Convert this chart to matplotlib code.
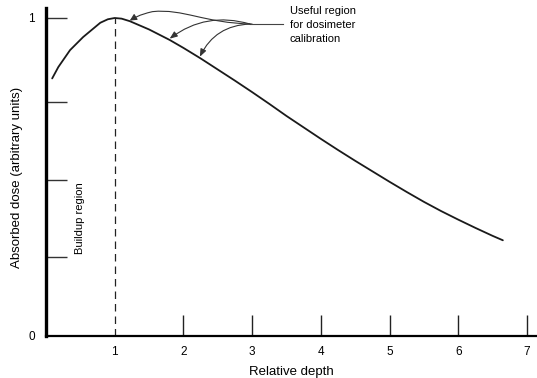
import numpy as np
import matplotlib
matplotlib.use("Agg")
import matplotlib.pyplot as plt
from matplotlib.patches import FancyArrowPatch
from matplotlib.path import Path

plt.rcParams['font.family'] = ['Liberation Sans', 'DejaVu Sans']

# ---- data ----
depth = [0.09, 0.18, 0.35, 0.54, 0.79, 0.90, 1.00, 1.10, 1.22, 1.50, 1.80, 2.00,
         2.25, 2.50, 2.75, 3.00, 3.25, 3.50, 3.75, 4.00, 4.25, 4.50, 4.75, 5.00,
         5.25, 5.50, 5.75, 6.00, 6.25, 6.50, 6.65]
dose = [0.810, 0.846, 0.899, 0.940, 0.985, 0.996, 1.000, 0.998, 0.990, 0.964, 0.931, 0.906,
        0.873, 0.838, 0.803, 0.767, 0.730, 0.692, 0.656, 0.620, 0.585, 0.551, 0.518, 0.485,
        0.453, 0.422, 0.393, 0.366, 0.340, 0.315, 0.301]
x_tick_values = [1, 2, 3, 4, 5, 6, 7]
x_tick_labels = ['1', '2', '3', '4', '5', '6', '7']
y_tick_marks = [0.25, 0.49, 0.735, 1.0]
y_tick_values = [0, 1]
y_tick_labels = ['0', '1']
dmax_depth = 1.0
arrow_targets = [1.22, 1.80, 2.24]
label_text = "Useful region\nfor dosimeter\ncalibration"

W, H = 537, 378
fig = plt.figure(figsize=(W / 100, H / 100), dpi=100)
ax = fig.add_axes([46 / W, 42 / H, 491 / W, 328 / H])
ax.set_xlim(0, 491 / 68.7)
ax.set_ylim(0, 328 / 318)
ax.xaxis.remove_overlapping_locs = False
ax.yaxis.remove_overlapping_locs = False

# main depth-dose curve
ax.plot(depth, dose, color='#1a1a1a', lw=1.3, solid_capstyle='round',
        solid_joinstyle='round')

# dashed line at depth of maximum dose
ax.plot([dmax_depth, dmax_depth], [0, 1.0], color='#222222', lw=0.9,
        linestyle=(0, (6, 4)))

# spines
for s in ['top', 'right']:
    ax.spines[s].set_visible(False)
ax.spines['left'].set_linewidth(2.4)
ax.spines['bottom'].set_linewidth(1.6)

# x ticks: labels at 1..7, inward marks at 2..7
ax.set_xticks(x_tick_values)
ax.set_xticklabels(x_tick_labels, fontsize=8.5)
ax.tick_params(axis='x', which='major', length=0, pad=7)
ax.set_xticks(x_tick_values[1:], minor=True)
ax.tick_params(axis='x', which='minor', direction='in', length=15, width=1.0, color='#222222')

# y ticks
ax.set_yticks(y_tick_values)
ax.set_yticklabels(y_tick_labels, fontsize=8.5)
ax.tick_params(axis='y', which='major', length=0, pad=8)
ax.set_yticks(y_tick_marks, minor=True)
ax.tick_params(axis='y', which='minor', direction='in', length=15, width=1.0, color='#333333')
ax.yaxis.get_minor_ticks()[-1].tick1line.set_color('#888888')

ax.set_xlabel('Relative depth', fontsize=9.5, labelpad=6)
ax.set_ylabel('Absorbed dose (arbitrary units)', fontsize=9.5)
ax.yaxis.set_label_coords(-0.046, 0.482)

# buildup region label
ax.text(0.50, 0.37, 'Buildup region', rotation=90, fontsize=8,
        ha='center', va='center')

# useful region annotation
ax.text(3.55, 0.978, label_text, fontsize=8, ha='left', va='center',
        linespacing=1.55)
ax.plot([2.97, 3.45], [0.981, 0.981], color='#444444', lw=0.8)

ty = np.interp(arrow_targets, depth, dose)
# first arrow: S-shaped curve over the peak
verts = [(3.0, 0.981), (2.3, 0.984), (2.0, 1.03), (1.55, 1.02), (1.35, 1.01), (1.28, 1.0),
         (arrow_targets[0], ty[0] + 0.002)]
codes = [Path.MOVETO, Path.CURVE4, Path.CURVE4, Path.CURVE4, Path.CURVE4, Path.CURVE4, Path.CURVE4]
p1 = FancyArrowPatch(path=Path(verts, codes), arrowstyle='-|>,head_length=4,head_width=2',
                     color='#333333', lw=0.8)
ax.add_patch(p1)
for tx, yy, rad in zip(arrow_targets[1:], ty[1:], [0.25, 0.3]):
    ax.annotate('', xy=(tx, yy + 0.004), xytext=(2.97, 0.981),
                arrowprops=dict(arrowstyle='-|>,head_length=0.45,head_width=0.18',
                                color='#333333', lw=0.8,
                                connectionstyle=f'arc3,rad={rad}',
                                shrinkA=0, shrinkB=0))

fig.savefig('out.png', dpi=100)
